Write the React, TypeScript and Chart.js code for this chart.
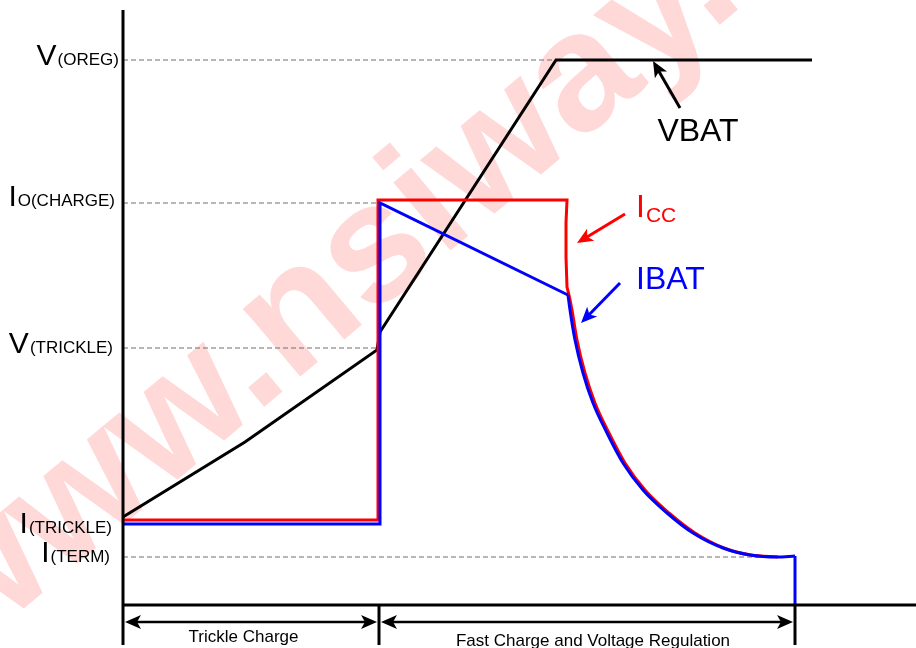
import { useEffect, useRef } from "react";
import { Chart, registerables } from "chart.js";

Chart.register(...registerables);

// ---- Data (time and level in arbitrary units) ----
const vbatTime = [0, 122, 254, 257, 433, 689];
const vbatLevel = [88, 163, 255, 273, 545, 545];

// ICC: constant-current step part, then the taper
const iccStepTime = [-4, 255, 255, 444, 443, 443, 444, 446];
const iccStepLevel = [85, 85, 405, 405, 382, 348, 318, 310];
const iccTailTime = [446, 449, 454, 462, 472, 486, 502, 522, 546, 572, 601, 628, 655];
const iccTailLevel = [310, 295, 265, 232, 202, 172, 142, 115, 92, 72, 57, 50, 48];

// IBAT: step part, taper, termination drop
const ibatStepTime = [0, 257, 257, 445];
const ibatStepLevel = [81, 81, 402, 310];
const ibatTailTime = [445, 447, 452, 460, 470, 484, 500, 520, 544, 570, 600, 627, 654, 672];
const ibatTailLevel = [310, 295, 265, 232, 202, 172, 142, 115, 92, 72, 57, 50, 48, 49];
const ibatDropTime = [672, 672];
const ibatDropLevel = [49, 0];

const levelValues = [545, 402, 257, 85, 48];
const levelMain = ["V", "I", "V", "I", "I"];
const levelSub = ["(OREG)", "O(CHARGE)", "(TRICKLE)", "(TRICKLE)", "(TERM)"];
const guideEnd = [433, 255, 255, null, 635];

const phaseBounds = [0, 256, 672];
const phaseNames = ["Trickle Charge", "Fast Charge and Voltage Regulation"];

const watermarkText = "www.nsiway.com";

// ---- styling ----
const FONT = '"Liberation Sans", Arial, Helvetica, sans-serif';
const labelRight = [119, 115, 113, 112, 110];
const labelDy = [5, 3, 5, 13, 5];
const phaseTextCenter = [120.5, 470];
const phaseTextLevel = [-37, -41];

function pts(xs: number[], ys: number[]) {
  return xs.map((x, i) => ({ x, y: ys[i] }));
}

function drawArrow(
  ctx: CanvasRenderingContext2D,
  x1: number, y1: number, x2: number, y2: number,
  color: string, lw: number, len: number, half: number, both = false
) {
  const a = Math.atan2(y2 - y1, x2 - x1);
  const c = Math.cos(a), s = Math.sin(a);
  ctx.save();
  ctx.strokeStyle = color;
  ctx.fillStyle = color;
  ctx.lineWidth = lw;
  ctx.lineCap = "butt";
  ctx.beginPath();
  ctx.moveTo(both ? x1 + c * len * 0.7 : x1, both ? y1 + s * len * 0.7 : y1);
  ctx.lineTo(x2 - c * len * 0.7, y2 - s * len * 0.7);
  ctx.stroke();
  const head = (tx: number, ty: number, dc: number, ds: number) => {
    ctx.beginPath();
    ctx.moveTo(tx, ty);
    ctx.lineTo(tx - dc * len + ds * half, ty - ds * len - dc * half);
    ctx.lineTo(tx - dc * len * 0.75, ty - ds * len * 0.75);
    ctx.lineTo(tx - dc * len - ds * half, ty - ds * len + dc * half);
    ctx.closePath();
    ctx.fill();
  };
  head(x2, y2, c, s);
  if (both) head(x1, y1, -c, -s);
  ctx.restore();
}

const decorPlugin = {
  id: "decor",
  beforeDraw(chart: any) {
    const { ctx, width, height } = chart;
    ctx.save();
    ctx.fillStyle = "#ffffff";
    ctx.fillRect(0, 0, width, height);
    ctx.translate(-40, 662);
    ctx.rotate((-40 * Math.PI) / 180);
    ctx.font = `bold 168px ${FONT}`;
    ctx.fillStyle = "#ffd8d8";
    ctx.textBaseline = "alphabetic";
    ctx.textAlign = "left";
    ctx.fillText(watermarkText, 0, 0);
    ctx.restore();
  },
  afterDatasetsDraw(chart: any) {
    const { ctx, chartArea } = chart;
    const xs = chart.scales.x;
    const ys = chart.scales.y;
    const X = (v: number) => xs.getPixelForValue(v);
    const Y = (v: number) => ys.getPixelForValue(v);
    ctx.save();

    // axes
    ctx.strokeStyle = "#000";
    ctx.lineWidth = 3;
    ctx.beginPath();
    ctx.moveTo(X(0), chartArea.top);
    ctx.lineTo(X(0), Y(-40));
    ctx.moveTo(X(0), Y(0));
    ctx.lineTo(chart.width, Y(0));
    ctx.stroke();
    ctx.beginPath();
    for (let i = 1; i < phaseBounds.length; i++) {
      ctx.moveTo(X(phaseBounds[i]), Y(0));
      ctx.lineTo(X(phaseBounds[i]), Y(-40));
    }
    ctx.stroke();

    // phase arrows and names
    ctx.font = `17px ${FONT}`;
    ctx.fillStyle = "#000";
    ctx.textAlign = "center";
    ctx.textBaseline = "alphabetic";
    for (let i = 0; i < phaseNames.length; i++) {
      const a = X(phaseBounds[i]) + 2;
      const b = X(phaseBounds[i + 1]) - 2;
      drawArrow(ctx, a, Y(-17), b, Y(-17), "#000", 2.5, 16, 7, true);
      ctx.fillText(phaseNames[i], X(phaseTextCenter[i]), Y(phaseTextLevel[i]));
    }

    // level labels
    for (let i = 0; i < levelValues.length; i++) {
      const base = Y(levelValues[i]) + labelDy[i];
      const r = labelRight[i];
      ctx.textAlign = "right";
      ctx.font = `17px ${FONT}`;
      const sw = ctx.measureText(levelSub[i]).width;
      ctx.fillText(levelSub[i], r, base);
      ctx.font = `30px ${FONT}`;
      ctx.fillText(levelMain[i], r - sw - 1, base);
    }

    // VBAT callout
    drawArrow(ctx, X(557), Y(497), X(530), Y(544), "#000", 3, 16, 7);
    ctx.font = `32px ${FONT}`;
    ctx.textAlign = "center";
    ctx.fillStyle = "#000";
    ctx.fillText("VBAT", X(575), Y(464));

    // ICC callout
    drawArrow(ctx, X(502), Y(391), X(454), Y(362), "#ff0000", 3, 16, 7);
    ctx.textAlign = "left";
    ctx.fillStyle = "#ff0000";
    ctx.font = `32px ${FONT}`;
    ctx.fillText("I", X(513), Y(388));
    const iw = ctx.measureText("I").width;
    ctx.font = `21px ${FONT}`;
    ctx.fillText("CC", X(513) + iw + 1, Y(383));

    // IBAT callout
    drawArrow(ctx, X(497), Y(322), X(458), Y(282), "#0000ff", 3, 16, 7);
    ctx.fillStyle = "#0000ff";
    ctx.font = `32px ${FONT}`;
    ctx.fillText("IBAT", X(513), Y(316));

    ctx.restore();
  },
};

export default function App() {
  const ref = useRef<HTMLCanvasElement | null>(null);

  useEffect(() => {
    if (!ref.current) return;
    const guides = levelValues
      .map((v, i) => ({ v, end: guideEnd[i] }))
      .filter((g) => g.end !== null)
      .map((g) => ({
        data: [{ x: 0, y: g.v }, { x: g.end as number, y: g.v }],
        borderColor: "#6e6e6e",
        borderWidth: 1,
        borderDash: [5, 3],
        pointRadius: 0,
        order: 10,
      }));

    const line = (data: any, color: string, order: number, smooth = false) => ({
      data,
      borderColor: color,
      borderWidth: 3,
      pointRadius: 0,
      tension: 0,
      cubicInterpolationMode: smooth ? "monotone" : "default",
      order,
    });

    const chart = new Chart(ref.current, {
      type: "line",
      data: {
        datasets: [
          line(pts(ibatStepTime, ibatStepLevel), "#0000ff", 1),
          line(pts(ibatTailTime, ibatTailLevel), "#0000ff", 1, true),
          line(pts(ibatDropTime, ibatDropLevel), "#0000ff", 1),
          line(pts(iccStepTime, iccStepLevel), "#ff0000", 2),
          line(pts(iccTailTime, iccTailLevel), "#ff0000", 2, true),
          line(pts(vbatTime, vbatLevel), "#000000", 3),
          ...guides,
        ] as any,
      },
      options: {
        responsive: false,
        animation: false,
        devicePixelRatio: 1,
        layout: { padding: { left: 123, right: 0, top: 10, bottom: 43 } },
        plugins: { legend: { display: false }, tooltip: { enabled: false }, title: { display: false } },
        elements: { line: { borderJoinStyle: "miter", borderCapStyle: "butt" } },
        scales: {
          x: { type: "linear", min: 0, max: 793, display: false },
          y: { type: "linear", min: 0, max: 595, display: false },
        },
      },
      plugins: [decorPlugin],
    });
    return () => chart.destroy();
  }, []);

  return (
    <div style={{ position: "absolute", left: 0, top: 0, width: 916, height: 648, background: "#fff" }}>
      <canvas ref={ref} width={916} height={648} style={{ display: "block" }} />
    </div>
  );
}
